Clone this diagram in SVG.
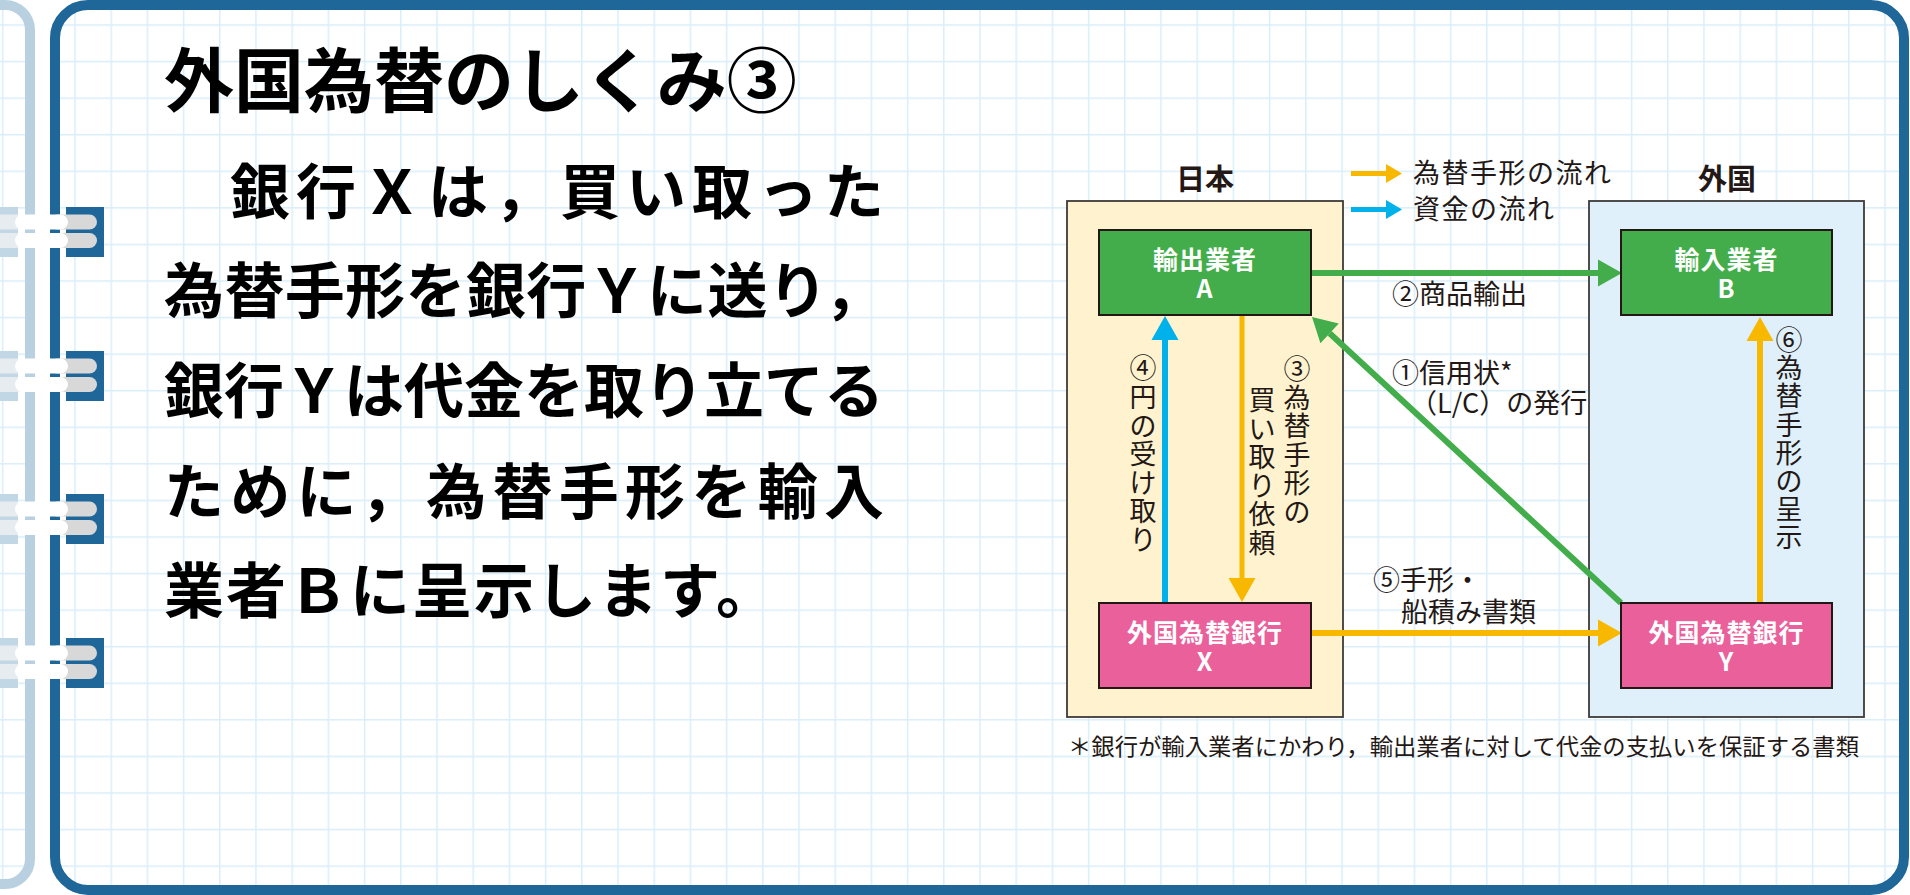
<svg xmlns="http://www.w3.org/2000/svg" width="1910" height="895" viewBox="0 0 1910 895">
<defs>
<style>
.jp{font-family:"Noto Sans CJK JP","Noto Sans",sans-serif}
.title{font-size:70px;font-weight:700;fill:#000}
.body{font-size:60px;font-weight:700;fill:#000}
.lbl{font-size:27px;fill:#231815}
.hd{font-size:29px;font-weight:700;fill:#231815}
.nd{font-size:25px;font-weight:700;fill:#fff;text-anchor:middle;letter-spacing:1px}
.vt{font-size:27px;fill:#231815;text-anchor:middle}
.foot{font-size:23px;fill:#231815}
.area{stroke:#3d3a39;stroke-width:1.8}
.gn{fill:#42ad4a;stroke:#231815;stroke-width:2}
.pk{fill:#e9609b;stroke:#231815;stroke-width:2}
.tabL{fill:#c2d7e5}
.tabR{fill:#1f6699}
.capG{fill:#d8d8d8}
.capW{fill:#fff}
</style>
<pattern id="grid" patternUnits="userSpaceOnUse" x="74.25" y="24.25" width="36.2" height="36.57">
<rect x="0" y="0" width="1.5" height="36.57" fill="#d9eefa"/>
<rect x="0" y="0" width="36.2" height="1.5" fill="#d9eefa"/>
</pattern>
<marker id="hG" markerUnits="userSpaceOnUse" markerWidth="26" markerHeight="28" refX="0" refY="13.5" orient="auto" overflow="visible"><path d="M0,0 L24,13.5 L0,27 z" fill="#42ad4a"/></marker>
<marker id="hY" markerUnits="userSpaceOnUse" markerWidth="26" markerHeight="28" refX="0" refY="13.5" orient="auto" overflow="visible"><path d="M0,0 L24,13.5 L0,27 z" fill="#f8b800"/></marker>
<marker id="hB" markerUnits="userSpaceOnUse" markerWidth="26" markerHeight="28" refX="0" refY="13.5" orient="auto" overflow="visible"><path d="M0,0 L24,13.5 L0,27 z" fill="#00b1ea"/></marker>
<marker id="sY" markerUnits="userSpaceOnUse" markerWidth="16" markerHeight="20" refX="0" refY="9.5" orient="auto" overflow="visible"><path d="M0,0 L16,9.5 L0,19 z" fill="#f8b800"/></marker>
<marker id="sB" markerUnits="userSpaceOnUse" markerWidth="16" markerHeight="20" refX="0" refY="9.5" orient="auto" overflow="visible"><path d="M0,0 L16,9.5 L0,19 z" fill="#00b1ea"/></marker>
</defs>

<g id="background">
<rect x="0" y="0" width="1910" height="895" fill="#fff"/>
<rect x="-40" y="5" width="70" height="879" rx="25" fill="url(#grid)"/>
<rect x="55" y="5" width="1849" height="885" rx="33" fill="url(#grid)"/>
<path d="M-10,5 L5,5 A25,25 0 0 1 30,30 L30,859 A25,25 0 0 1 5,884 L-10,884" fill="none" stroke="#b8d0e0" stroke-width="10"/>
<rect x="55" y="5" width="1849" height="885" rx="33" fill="none" stroke="#1f6699" stroke-width="10"/>
</g>

<g id="rings">
<g transform="translate(0,207)">
<rect class="tabL" x="-2" y="0" width="20" height="50"/><rect class="tabR" x="66" y="0" width="38" height="50"/>
<rect x="-2" y="7.5" width="20" height="15" fill="#e6ecef"/><rect x="-2" y="26" width="20" height="15" fill="#e6ecef"/>
<rect class="capG" x="50" y="7.5" width="47" height="15" rx="7.5"/><rect class="capW" x="15" y="7.5" width="53" height="15" rx="7.5"/>
<rect class="capG" x="50" y="26" width="47" height="15" rx="7.5"/><rect class="capW" x="15" y="26" width="53" height="15" rx="7.5"/>
</g>
<g transform="translate(0,351)">
<rect class="tabL" x="-2" y="0" width="20" height="50"/><rect class="tabR" x="66" y="0" width="38" height="50"/>
<rect x="-2" y="7.5" width="20" height="15" fill="#e6ecef"/><rect x="-2" y="26" width="20" height="15" fill="#e6ecef"/>
<rect class="capG" x="50" y="7.5" width="47" height="15" rx="7.5"/><rect class="capW" x="15" y="7.5" width="53" height="15" rx="7.5"/>
<rect class="capG" x="50" y="26" width="47" height="15" rx="7.5"/><rect class="capW" x="15" y="26" width="53" height="15" rx="7.5"/>
</g>
<g transform="translate(0,494)">
<rect class="tabL" x="-2" y="0" width="20" height="50"/><rect class="tabR" x="66" y="0" width="38" height="50"/>
<rect x="-2" y="7.5" width="20" height="15" fill="#e6ecef"/><rect x="-2" y="26" width="20" height="15" fill="#e6ecef"/>
<rect class="capG" x="50" y="7.5" width="47" height="15" rx="7.5"/><rect class="capW" x="15" y="7.5" width="53" height="15" rx="7.5"/>
<rect class="capG" x="50" y="26" width="47" height="15" rx="7.5"/><rect class="capW" x="15" y="26" width="53" height="15" rx="7.5"/>
</g>
<g transform="translate(0,638)">
<rect class="tabL" x="-2" y="0" width="20" height="50"/><rect class="tabR" x="66" y="0" width="38" height="50"/>
<rect x="-2" y="7.5" width="20" height="15" fill="#e6ecef"/><rect x="-2" y="26" width="20" height="15" fill="#e6ecef"/>
<rect class="capG" x="50" y="7.5" width="47" height="15" rx="7.5"/><rect class="capW" x="15" y="7.5" width="53" height="15" rx="7.5"/>
<rect class="capG" x="50" y="26" width="47" height="15" rx="7.5"/><rect class="capW" x="15" y="26" width="53" height="15" rx="7.5"/>
</g>
</g>

<g id="explanation" class="jp">
<text class="title" x="164" y="107">外国為替のしくみ③</text>
<text class="body" x="164" y="214" textLength="720" lengthAdjust="spacing">　銀行Ｘは，買い取った</text>
<text class="body" x="164" y="313" textLength="720" lengthAdjust="spacing">為替手形を銀行Ｙに送り，</text>
<text class="body" x="164" y="413" textLength="720" lengthAdjust="spacing">銀行Ｙは代金を取り立てる</text>
<text class="body" x="164" y="514" textLength="720" lengthAdjust="spacing">ために，為替手形を輸入</text>
<text class="body" x="164" y="613" style="letter-spacing:2px">業者Ｂに呈示します。</text>
</g>

<g id="area-japan" class="jp">
<rect class="area" x="1067" y="201" width="276" height="516" fill="#fff3cf"/>
<text class="hd" x="1205" y="190" text-anchor="middle">日本</text>
</g>
<g id="area-foreign" class="jp">
<rect class="area" x="1589" y="201" width="275" height="516" fill="#dff0fb"/>
<text class="hd" x="1727" y="190" text-anchor="middle">外国</text>
</g>

<g id="legend" class="jp">
<line x1="1351" y1="173.5" x2="1386" y2="173.5" stroke="#f8b800" stroke-width="5" marker-end="url(#sY)"/>
<text class="lbl" x="1413" y="183" style="letter-spacing:1.5px">為替手形の流れ</text>
<line x1="1351" y1="209.5" x2="1386" y2="209.5" stroke="#00b1ea" stroke-width="5" marker-end="url(#sB)"/>
<text class="lbl" x="1413" y="219" style="letter-spacing:1.5px">資金の流れ</text>
</g>

<g id="connectors" fill="none" stroke-width="6">
<line x1="1311" y1="273" x2="1598" y2="273" stroke="#42ad4a" marker-end="url(#hG)"/>
<line x1="1621" y1="603" x2="1329.6" y2="333.3" stroke="#42ad4a" marker-end="url(#hG)"/>
<line x1="1165" y1="603" x2="1165" y2="340" stroke="#00b1ea" marker-end="url(#hB)"/>
<line x1="1242" y1="316" x2="1242" y2="578" stroke="#f8b800" stroke-width="5" marker-end="url(#hY)"/>
<line x1="1311" y1="633" x2="1598" y2="633" stroke="#f8b800" marker-end="url(#hY)"/>
<line x1="1760" y1="603" x2="1760" y2="341" stroke="#f8b800" marker-end="url(#hY)"/>
</g>

<g id="connector-labels" class="jp">
<text class="lbl" x="1392" y="304">②商品輸出</text>
<text class="lbl" x="1392" y="383">①信用状*</text>
<text class="lbl" x="1410" y="413">（L/C）の発行</text>
<text class="lbl" x="1373" y="590">⑤手形・</text>
<text class="lbl" x="1401" y="622">船積み書類</text>
<text class="vt" x="1143 1143 1143 1143 1143 1143 1143" y="378 407 436 464 493 521 550">④円の受け取り</text>
<text class="vt" x="1297 1297 1297 1297 1297 1297" y="379 408 436 465 493 522">③為替手形の</text>
<text class="vt" x="1262 1262 1262 1262 1262 1262" y="410 439 467 496 524 553">買い取り依頼</text>
<text class="vt" x="1789 1789 1789 1789 1789 1789 1789 1789" y="350 378 406 435 463 491 519 547">⑥為替手形の呈示</text>
</g>

<g id="node-A" class="jp">
<rect class="gn" x="1099" y="230" width="212" height="85"/>
<text class="nd" x="1205" y="269">輸出業者</text>
<text class="nd" x="1205" y="298">A</text>
</g>
<g id="node-B" class="jp">
<rect class="gn" x="1621" y="230" width="211" height="85"/>
<text class="nd" x="1726.5" y="269">輸入業者</text>
<text class="nd" x="1726.5" y="298">B</text>
</g>
<g id="node-X" class="jp">
<rect class="pk" x="1099" y="603" width="212" height="85"/>
<text class="nd" x="1205" y="642">外国為替銀行</text>
<text class="nd" x="1205" y="671">X</text>
</g>
<g id="node-Y" class="jp">
<rect class="pk" x="1621" y="603" width="211" height="85"/>
<text class="nd" x="1726.5" y="642">外国為替銀行</text>
<text class="nd" x="1726.5" y="671">Y</text>
</g>

<g id="footnote" class="jp">
<text class="foot" x="1068" y="755" textLength="791" lengthAdjust="spacingAndGlyphs">＊銀行が輸入業者にかわり，輸出業者に対して代金の支払いを保証する書類</text>
</g>
</svg>
